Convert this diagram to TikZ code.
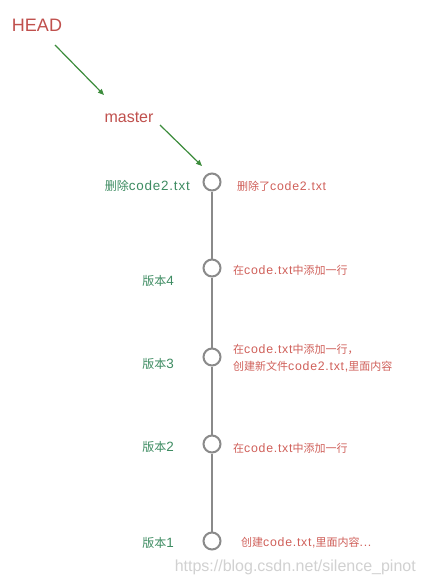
\documentclass[tikz,border=0pt]{standalone}
\usepackage{fontspec}
\setmainfont{Liberation Sans}[Scale=1.12,LetterSpace=6]
\newfontfamily\plain{Liberation Sans}
\newfontfamily\cjk{Noto Sans CJK SC}
\usetikzlibrary{arrows.meta}
\definecolor{hred}{HTML}{C0504D}
\definecolor{lred}{HTML}{D0605A}
\definecolor{agreen}{HTML}{3C8C3C}
\definecolor{lgreen}{HTML}{3E8C62}
\definecolor{cgray}{HTML}{8A8A8A}
\tikzset{
  commit/.style={circle,draw=cgray,line width=2pt,fill=white,minimum size=17pt,inner sep=0pt},
  lbl/.style={text=lgreen,font=\fontsize{12}{14}\selectfont,inner sep=0pt},
  desc/.style={text=lred,font=\fontsize{11}{17}\selectfont,inner sep=0pt,anchor=west,align=left},
  ptr/.style={draw=agreen,line width=1.2pt,-{Triangle[length=6pt,width=5pt]}},
  line/.style={draw=cgray,line width=2.2pt}
}
\begin{document}
\begin{tikzpicture}[x=1pt,y=-1pt]
\useasboundingbox[fill=white] (0,0) rectangle (424,584);
\node[text=hred,font=\plain\fontsize{18}{21}\selectfont,inner sep=0pt] (head) at (37,25) {HEAD};
\node[text=hred,font=\plain\fontsize{16}{18}\selectfont,inner sep=0pt] (master) at (129,117) {master};
\node[commit] (c5) at (212,182) {};
\node[commit] (c4) at (212,268) {};
\node[commit] (c3) at (212,357) {};
\node[commit] (c2) at (212,444) {};
\node[commit] (c1) at (212,541) {};
\draw[line] (c5) -- (c4);
\draw[line] (c4) -- (c3);
\draw[line] (c3) -- (c2);
\draw[line] (c2) -- (c1);
\coordinate (hs) at (55,45);
\coordinate (he) at (104,95);
\coordinate (ms) at (160,125);
\coordinate (me) at (202,166);
\draw[ptr] (hs) -- (he);
\draw[ptr] (ms) -- (me);
\node[lbl,anchor=east] (l5) at (190,186) {{\cjk 删除}code2.txt};
\node[lbl] (l4) at (158,281) {{\cjk 版本}4};
\node[lbl] (l3) at (158,364) {{\cjk 版本}3};
\node[lbl] (l2) at (158,447) {{\cjk 版本}2};
\node[lbl] (l1) at (158,543) {{\cjk 版本}1};
\node[desc] (d5) at (237,186) {{\cjk 删除了}code2.txt};
\node[desc] (d4) at (233,270) {{\cjk 在}code.txt{\cjk 中添加一行}};
\node[desc] (d3) at (233,358) {{\cjk 在}code.txt{\cjk 中添加一行，}\\{\cjk 创建新文件}code2.txt,{\cjk 里面内容}};
\node[desc] (d2) at (233,448) {{\cjk 在}code.txt{\cjk 中添加一行}};
\node[desc] (d1) at (241,543) {{\cjk 创建}code.txt,{\cjk 里面内容}...};
\node[text=black!18,font=\plain\fontsize{16}{18}\selectfont,inner sep=0pt,anchor=east] (wm) at (416,567) {https://blog.csdn.net/silence\_pinot};
\end{tikzpicture}
\end{document}
